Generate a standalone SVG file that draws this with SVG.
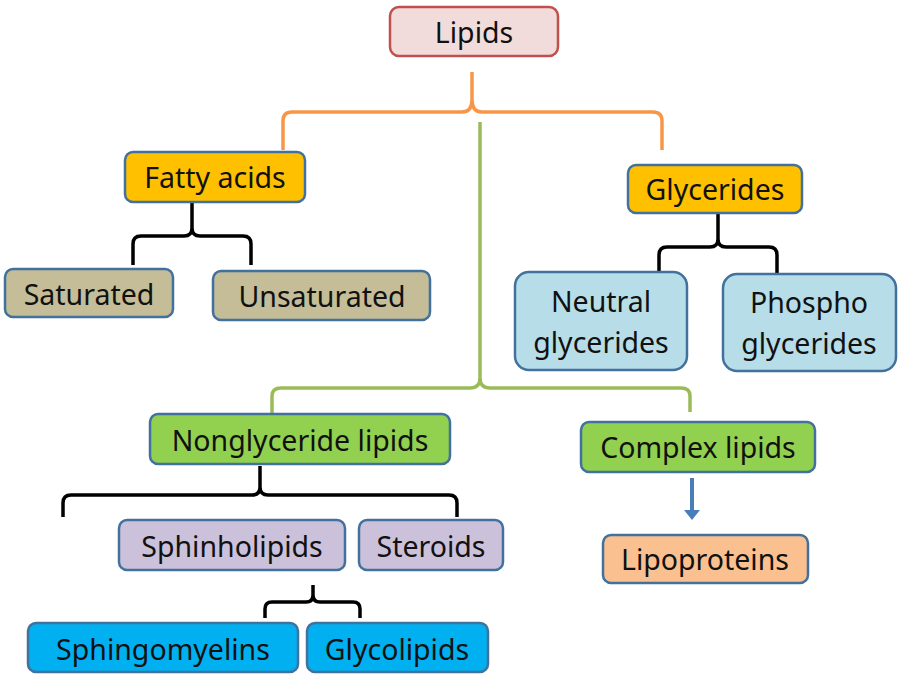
<svg xmlns="http://www.w3.org/2000/svg" width="900" height="680" viewBox="0 0 900 680">
<style>
  .box { stroke: #41719c; stroke-width: 2.5; }
  .lbl { font-family: "Noto Sans", "Open Sans", sans-serif; font-size: 28.5px; fill: #111; text-anchor: middle; }
  .brace { fill: none; stroke: #000; stroke-width: 3.5; stroke-linejoin: round; stroke-linecap: butt; }
  .orange { fill: none; stroke: #f79646; stroke-width: 3.5; }
  .green { fill: none; stroke: #9bbb59; stroke-width: 3.5; }
</style>
<defs>
  <marker id="arr" markerWidth="4" markerHeight="4" refX="1" refY="2" orient="auto" markerUnits="strokeWidth">
    <path d="M0,0 L2.5,2 L0,4 Z" fill="#4a7ebb"/>
  </marker>
</defs>
<rect width="900" height="680" fill="#ffffff"/>

<g id="connectors">
  <path class="orange" d="M283,150 V121 Q283,112 292,112 H462 Q472,112 472,100 V72 M472,100 Q472,112 482,112 H653 Q662,112 662,121 V150"/>
  <path class="green" d="M480,122 V378 Q480,388 470,388 H281 Q272,388 272,396 V414 M480,378 Q480,388 490,388 H681 Q690,388 690,396 V412"/>
  <path class="brace" d="M133,265 V244 Q133,236 141,236 H184 Q192,236 192,228 V203 M192,228 Q192,236 200,236 H243 Q251,236 251,244 V265"/>
  <path class="brace" d="M659,276 V255 Q659,247 667,247 H710 Q718,247 718,239 V214 M718,239 Q718,247 726,247 H769 Q777,247 777,255 V276"/>
  <path class="brace" d="M63,517 V503 Q63,495 71,495 H252 Q260,495 260,487 V466 M260,487 Q260,495 268,495 H449 Q457,495 457,503 V517"/>
  <path class="brace" d="M265,618 V609 Q265,602 272,602 H306 Q313,602 313,595 V585 M313,595 Q313,602 320,602 H353 Q360,602 360,609 V618"/>
  <line x1="692" y1="478" x2="692" y2="514" stroke="#4a7ebb" stroke-width="4" marker-end="url(#arr)"/>
</g>

<g id="lipids">
  <rect x="390" y="7" width="168" height="49" rx="9" fill="#f2dcdb" stroke="#c0504d" stroke-width="2.5"/>
  <text class="lbl" x="474" y="43">Lipids</text>
</g>
<g id="fatty-acids">
  <rect class="box" x="125" y="152" width="180" height="50" rx="8" fill="#ffc000"/>
  <text class="lbl" x="215" y="188">Fatty acids</text>
</g>
<g id="saturated">
  <rect class="box" x="5" y="269" width="168" height="48" rx="8" fill="#c4bd97"/>
  <text class="lbl" x="89" y="305">Saturated</text>
</g>
<g id="unsaturated">
  <rect class="box" x="213" y="271" width="217" height="49" rx="8" fill="#c4bd97"/>
  <text class="lbl" x="322" y="307">Unsaturated</text>
</g>
<g id="glycerides">
  <rect class="box" x="628" y="165" width="174" height="48" rx="8" fill="#ffc000"/>
  <text class="lbl" x="715" y="200">Glycerides</text>
</g>
<g id="neutral-glycerides">
  <rect class="box" x="515" y="272" width="172" height="98" rx="14" fill="#b7dee8"/>
  <text class="lbl" x="601" y="312">Neutral</text>
  <text class="lbl" x="601" y="353">glycerides</text>
</g>
<g id="phospho-glycerides">
  <rect class="box" x="723" y="274" width="173" height="97" rx="14" fill="#b7dee8"/>
  <text class="lbl" x="809" y="313">Phospho</text>
  <text class="lbl" x="809" y="354">glycerides</text>
</g>
<g id="nonglyceride-lipids">
  <rect class="box" x="150" y="414" width="300" height="50" rx="8" fill="#92d050"/>
  <text class="lbl" x="300" y="451">Nonglyceride lipids</text>
</g>
<g id="complex-lipids">
  <rect class="box" x="581" y="422" width="234" height="50" rx="8" fill="#92d050"/>
  <text class="lbl" x="698" y="458">Complex lipids</text>
</g>
<g id="sphinholipids">
  <rect class="box" x="119" y="520" width="226" height="50" rx="8" fill="#ccc1da"/>
  <text class="lbl" x="232" y="557">Sphinholipids</text>
</g>
<g id="steroids">
  <rect class="box" x="359" y="520" width="144" height="50" rx="8" fill="#ccc1da"/>
  <text class="lbl" x="431" y="557">Steroids</text>
</g>
<g id="lipoproteins">
  <rect class="box" x="603" y="535" width="205" height="48" rx="8" fill="#fac090"/>
  <text class="lbl" x="705" y="570">Lipoproteins</text>
</g>
<g id="sphingomyelins">
  <rect class="box" x="28" y="623" width="270" height="49" rx="8" fill="#00b0f0"/>
  <text class="lbl" x="163" y="660">Sphingomyelins</text>
</g>
<g id="glycolipids">
  <rect class="box" x="307" y="623" width="181" height="49" rx="8" fill="#00b0f0"/>
  <text class="lbl" x="397" y="660">Glycolipids</text>
</g>
</svg>
